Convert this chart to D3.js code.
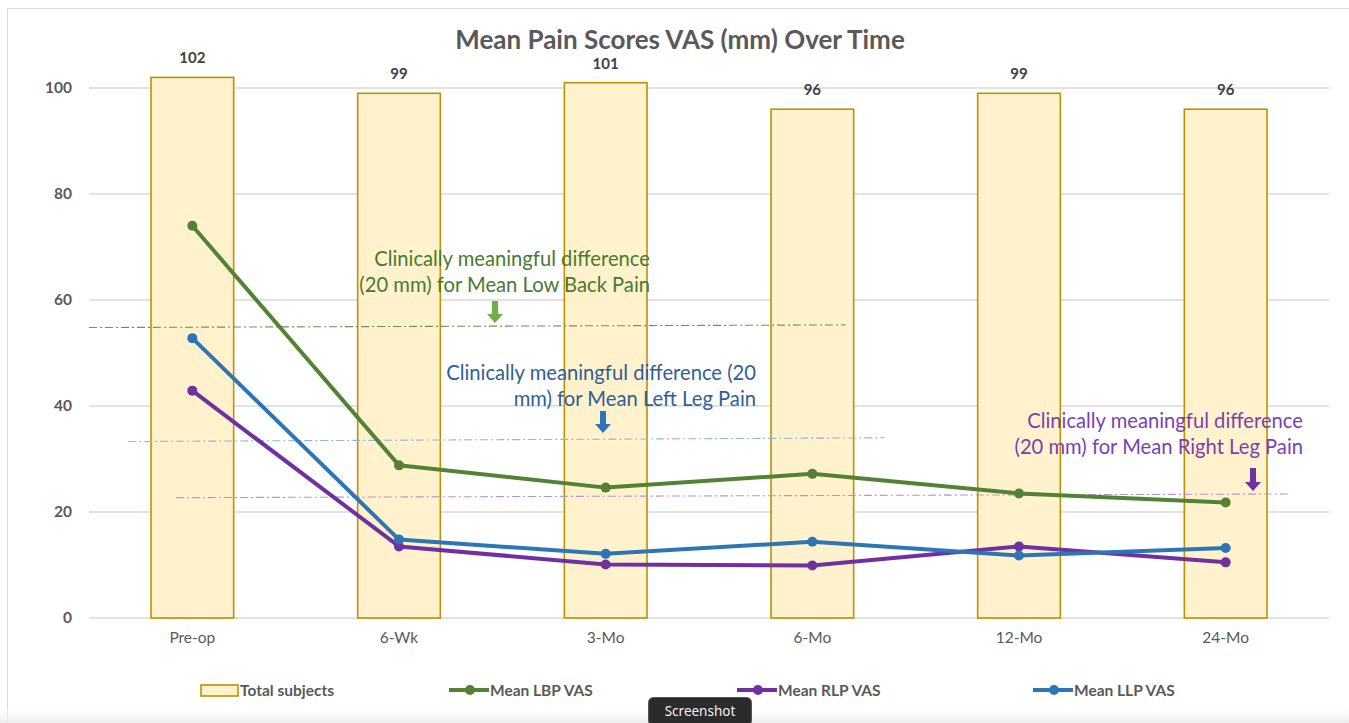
<!DOCTYPE html>
<html><head><meta charset="utf-8">
<script src="https://cdn.jsdelivr.net/npm/d3@7"></script>
<style>
html,body{margin:0;padding:0;background:#fff;}
svg{display:block;}
</style></head>
<body>
<svg id="chart" width="1349" height="723"></svg>
<script>
const categories = ["Pre-op","6-Wk","3-Mo","6-Mo","12-Mo","24-Mo"];
const totalSubjects = [102,99,101,96,99,96];
const lbp = [74.0,28.8,24.6,27.2,23.5,21.8];
const rlp = [42.9,13.5,10.1,9.9,13.5,10.5];
const llp = [52.8,14.8,12.1,14.4,11.8,13.2];
const yTicks = [0,20,40,60,80,100];
// reference lines: [startIndex, endIndex, startValue, endValue]
const refLBP = [-0.5, 3.16, 54.8, 55.3];
const refLLP = [-0.31, 3.35, 33.3, 34.0];
const refRLP = [-0.08, 5.3, 22.7, 23.4];

(function(){
const svg = d3.select("#chart");
const W = 1349, H = 723;
const pLeft = 89, pRight = 1329, pTop = 88, pBottom = 618;
const y = d3.scaleLinear().domain([0,100]).range([pBottom, pTop]);
const x = d3.scaleBand().domain(categories).range([pLeft,pRight]).paddingInner(0.6).paddingOuter(0.3);
const xc = i => x(categories[i]) + x.bandwidth()/2;
const step = x.step();
const xi = v => pLeft + (v + 0.5) * step;

const font = "Lato, 'Open Sans', sans-serif";
const grey = "#595959";

// frame
svg.append("rect").attr("x",7.5).attr("y",8.5).attr("width",1360).attr("height",800)
  .attr("fill","none").attr("stroke","#d9d9d9").attr("stroke-width",1);

// title
svg.append("text").attr("x",680).attr("y",49).attr("text-anchor","middle")
  .attr("font-family",font).attr("font-weight","bold").attr("font-size",26).attr("fill",grey)
  .text("Mean Pain Scores VAS (mm) Over Time");

// grid
svg.append("g").selectAll("line").data(yTicks).join("line")
  .attr("x1",pLeft).attr("x2",pRight).attr("y1",d=>y(d)).attr("y2",d=>y(d))
  .attr("stroke","#d9d9d9").attr("stroke-width",1.3);

// y axis labels
const yAxis = d3.axisLeft(y).tickValues(yTicks).tickSize(0).tickPadding(17);
const gy = svg.append("g").attr("transform",`translate(${pLeft},0)`).call(yAxis);
gy.select(".domain").remove();
gy.selectAll("text").attr("font-family",font).attr("font-weight","bold").attr("font-size",15.5).attr("fill",grey);

// x axis labels
const xAxis = d3.axisBottom(x).tickSize(0).tickPadding(14);
const gx = svg.append("g").attr("transform",`translate(0,${pBottom})`).call(xAxis);
gx.select(".domain").remove();
gx.selectAll("text").attr("font-family",font).attr("font-size",15.5).attr("fill",grey);

// bars
svg.append("g").selectAll("rect").data(totalSubjects).join("rect")
  .attr("x",(d,i)=>x(categories[i])).attr("y",d=>y(d))
  .attr("width",x.bandwidth()).attr("height",d=>pBottom-y(d))
  .attr("fill","#fff2cc").attr("stroke","#bf9000").attr("stroke-width",1.6);
svg.append("g").selectAll("text").data(totalSubjects).join("text")
  .attr("x",(d,i)=>xc(i)).attr("y",d=>y(d)-14).attr("text-anchor","middle")
  .attr("font-family",font).attr("font-weight","bold").attr("font-size",15).attr("fill","#404040")
  .text(d=>d);

// reference dash-dot lines
function refLine(r,color){
  svg.append("line").attr("x1",xi(r[0])).attr("x2",xi(r[1])).attr("y1",y(r[2])).attr("y2",y(r[3]))
    .attr("stroke",color).attr("stroke-width",1.1).attr("stroke-dasharray","8,3,2,3");
}
refLine(refLBP,"#6f8f5a");
refLine(refLLP,"#8fb6de");
refLine(refRLP,"#b592d4");

// series
const series = [
  {name:"Mean LBP VAS", values:lbp, color:"#548235"},
  {name:"Mean RLP VAS", values:rlp, color:"#7030a0"},
  {name:"Mean LLP VAS", values:llp, color:"#2e75b6"}
];
const lineGen = d3.line().x((d,i)=>xc(i)).y(d=>y(d));
series.forEach(s=>{
  svg.append("path").datum(s.values).attr("d",lineGen).attr("fill","none")
    .attr("stroke",s.color).attr("stroke-width",4).attr("stroke-linejoin","round");
  svg.append("g").selectAll("circle").data(s.values).join("circle")
    .attr("cx",(d,i)=>xc(i)).attr("cy",d=>y(d)).attr("r",5).attr("fill",s.color);
});

// annotations
function annot(lines, xRight, yBase, color){
  const t = svg.append("text").attr("font-family",font).attr("font-size",20.2).attr("fill",color).attr("text-anchor","end");
  lines.forEach((l,i)=>t.append("tspan").attr("x",xRight).attr("y",yBase+i*26).text(l));
}
annot(["Clinically meaningful difference","(20 mm) for Mean Low Back Pain"],650,266,"#4a7a30");
annot(["Clinically meaningful difference (20","mm) for Mean Left Leg Pain"],756,380,"#2f5f96");
annot(["Clinically meaningful difference","(20 mm) for Mean Right Leg Pain"],1303,428,"#7a3fb5");

function arrow(cx, y0, y1, color){
  const hw = 3, aw = 8, ah = 9;
  const p = d3.path();
  p.moveTo(cx-hw,y0); p.lineTo(cx+hw,y0); p.lineTo(cx+hw,y1-ah); p.lineTo(cx+aw,y1-ah);
  p.lineTo(cx,y1); p.lineTo(cx-aw,y1-ah); p.lineTo(cx-hw,y1-ah); p.closePath();
  svg.append("path").attr("d",p.toString()).attr("fill",color);
}
arrow(495,301,323,"#70ad47");
arrow(603,411,433,"#2e75b6");
arrow(1253,468,491,"#7030a0");

// legend
const leg = svg.append("g").attr("font-family",font).attr("font-weight","bold").attr("font-size",15.5).attr("fill",grey);
leg.append("rect").attr("x",201).attr("y",685).attr("width",37).attr("height",11)
  .attr("fill","#fff2cc").attr("stroke","#bf9000").attr("stroke-width",1.6);
leg.append("text").attr("x",240).attr("y",696).text("Total subjects");
const legX = [449, 737, 1033];
series.forEach((s,i)=>{
  leg.append("line").attr("x1",legX[i]).attr("x2",legX[i]+40).attr("y1",690).attr("y2",690)
    .attr("stroke",s.color).attr("stroke-width",4);
  leg.append("circle").attr("cx",legX[i]+21).attr("cy",690).attr("r",5).attr("fill",s.color);
  leg.append("text").attr("x",legX[i]+41).attr("y",696).text(s.name);
});

// bottom strip
const grad = svg.append("defs").append("linearGradient").attr("id","bg").attr("x1",0).attr("y1",0).attr("x2",0).attr("y2",1);
grad.append("stop").attr("offset","0%").attr("stop-color","#ffffff").attr("stop-opacity",0);
grad.append("stop").attr("offset","100%").attr("stop-color","#ececec").attr("stop-opacity",1);
svg.append("rect").attr("x",0).attr("y",706).attr("width",W).attr("height",17).attr("fill","url(#bg)");

// screenshot tooltip
svg.append("rect").attr("x",648.5).attr("y",697.5).attr("width",103).attr("height",28).attr("rx",5)
  .attr("fill","#2b2b2b").attr("stroke","#555").attr("stroke-width",1);
svg.append("text").attr("x",700).attr("y",716).attr("text-anchor","middle")
  .attr("font-family","'Noto Sans', 'Open Sans', sans-serif").attr("font-size",13.5).attr("fill","#f0f0f0").text("Screenshot");
})();
</script>
</body></html>
